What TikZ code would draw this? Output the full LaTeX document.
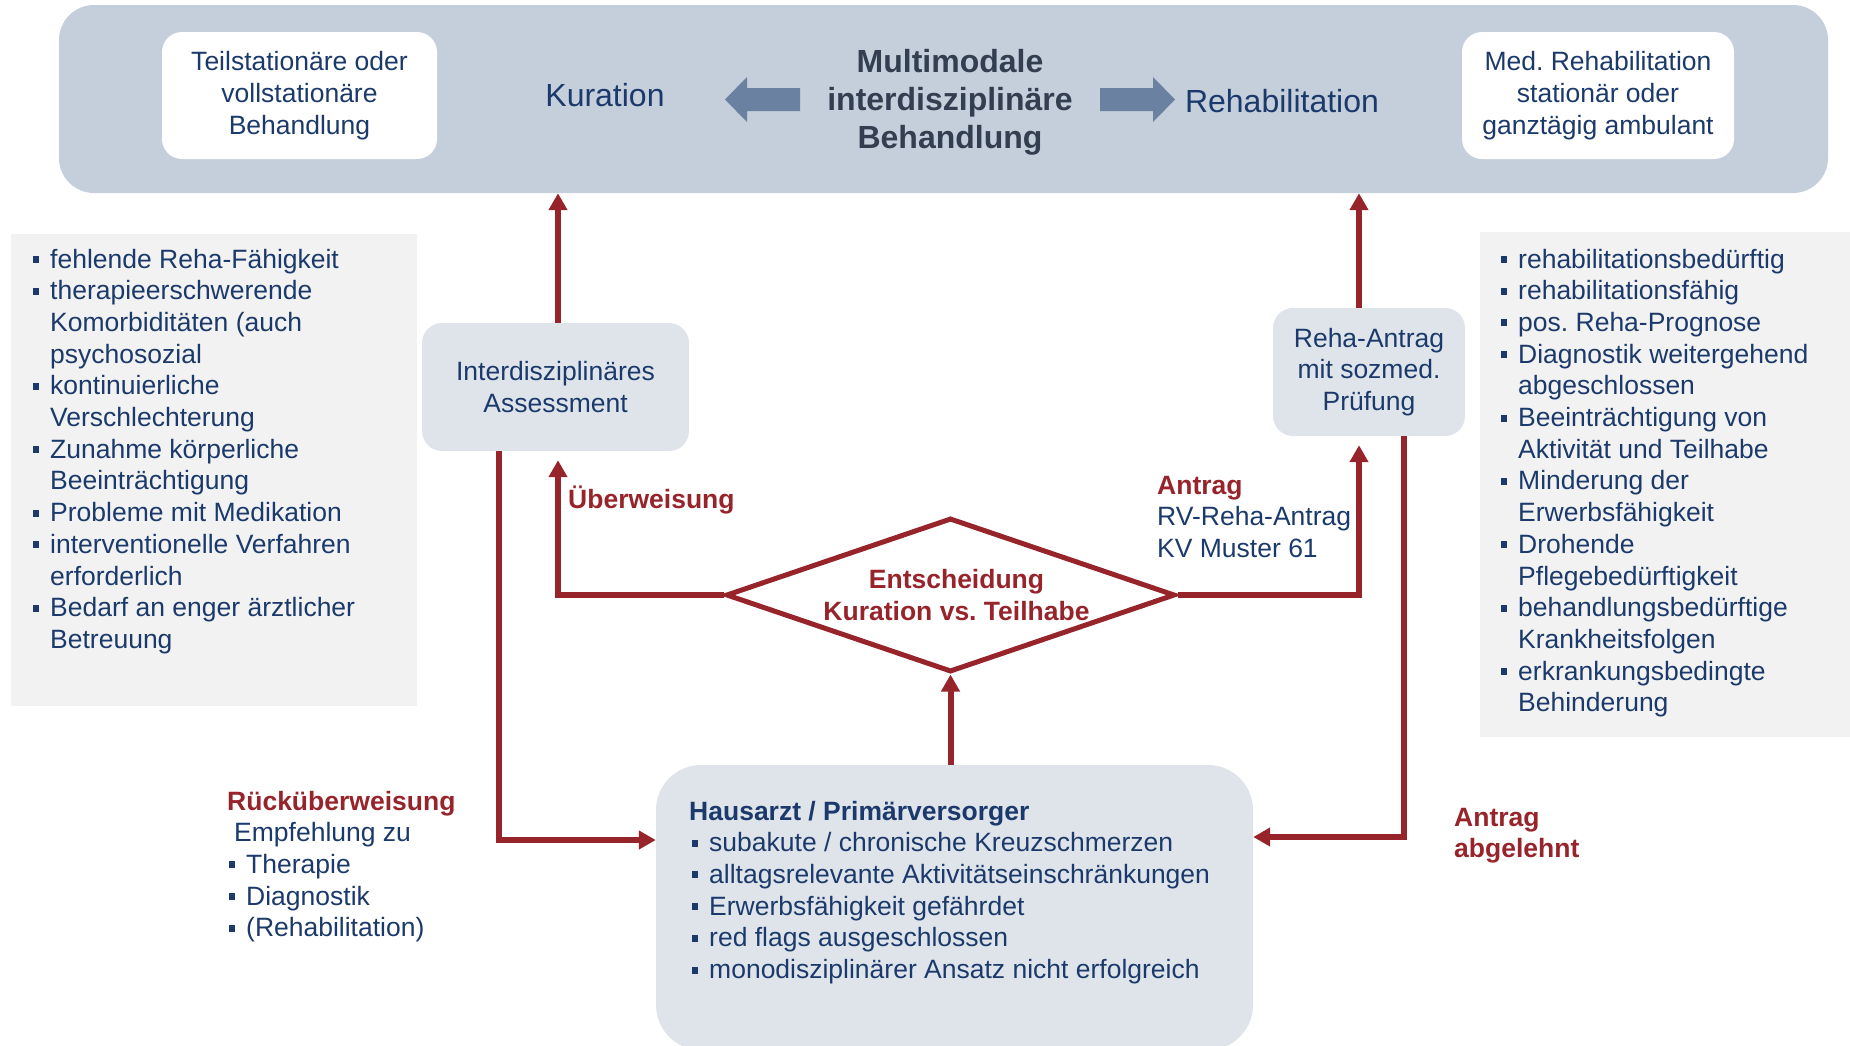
\documentclass[tikz,border=0pt]{standalone}
\usepackage{fontspec}
\setmainfont{Liberation Sans}
\usepackage{xcolor}
\usepackage{tikz}
\usetikzlibrary{shapes.geometric,arrows.meta,positioning,calc}

\definecolor{navy}{HTML}{1B3A6B}
\definecolor{dunkelrot}{HTML}{98242B}
\definecolor{titelgrau}{HTML}{333F50}
\definecolor{panelblau}{HTML}{C5CEDB}
\definecolor{boxgrau}{HTML}{DFE4EB}
\definecolor{listgrau}{HTML}{F2F2F2}
\definecolor{pfeilblau}{HTML}{6A81A1}

\newcommand{\bl}{\makebox[17pt][l]{\rule[5pt]{6pt}{7pt}}} % square bullet
\newcommand{\ein}{\hspace*{17pt}}                          % hanging indent
\frenchspacing

\begin{document}
\begin{tikzpicture}[
  x=1pt, y=-1pt,                     % pixel grid, y downwards
  every node/.style={inner sep=0pt, text=navy, font=\fontsize{26.5}{31.7}\selectfont},
  pfeil/.style={draw=dunkelrot, line width=6pt, -{Triangle[length=17pt,width=18pt]}},
  hellbox/.style={fill=boxgrau, rounded corners=20pt, align=center},
  weissbox/.style={fill=white, rounded corners=20pt, align=center},
  liste/.style={anchor=base west, align=left}, % anchored at the base of the LAST line
  rot/.style={text=dunkelrot, font=\fontsize{26.5}{31.7}\selectfont\bfseries},
  gross/.style={font=\fontsize{32}{38}\selectfont}
]
\useasboundingbox (0,0) rectangle (1850,1045);
\clip (0,0) rectangle (1850,1045);

% top bar
\node[fill=panelblau, rounded corners=35pt, minimum width=1769pt, minimum height=188pt] (panel) at (943.5,99) {};
\node[weissbox, minimum width=275pt, minimum height=127pt] (teilstat) at (299.5,95.5) {Teilstationäre oder\\vollstationäre\\Behandlung};
\node[weissbox, minimum width=272pt, minimum height=127pt] (medreha) at (1598,95.5) {Med. Rehabilitation\\stationär oder\\ganztägig ambulant};
\node[gross, anchor=base] (kuration) at (605,106) {Kuration};
\node[gross, anchor=base] (rehabil) at (1282,112) {Rehabilitation};
\node[anchor=base, align=center, text=titelgrau, font=\fontsize{32}{38}\selectfont\bfseries] (titel) at (950,148) {Multimodale\\interdisziplinäre\\Behandlung};
\fill[pfeilblau] (800,88) -- (747,88) -- (747,77) -- (725,99.5) -- (747,122) -- (747,111) -- (800,111) -- cycle;
\fill[pfeilblau] (1100,88) -- (1153,88) -- (1153,77) -- (1175,99.5) -- (1153,122) -- (1153,111) -- (1100,111) -- cycle;

% criteria lists
\fill[listgrau] (11,234) rectangle (417,706);
\fill[listgrau] (1480,232) rectangle (1850,737);
\node[liste] (kritlinks) at (33,648.4) {\bl fehlende Reha-Fähigkeit\\
  \bl therapieerschwerende\\ \ein Komorbiditäten (auch\\ \ein psychosozial\\
  \bl kontinuierliche\\ \ein Verschlechterung\\
  \bl Zunahme körperliche\\ \ein Beeinträchtigung\\
  \bl Probleme mit Medikation\\
  \bl interventionelle Verfahren\\ \ein erforderlich\\
  \bl Bedarf an enger ärztlicher\\ \ein Betreuung};
\node[liste] (kritrechts) at (1501,711.8) {\bl rehabilitationsbedürftig\\
  \bl rehabilitationsfähig\\
  \bl pos. Reha-Prognose\\
  \bl Diagnostik weitergehend\\ \ein abgeschlossen\\
  \bl Beeinträchtigung von\\ \ein Aktivität und Teilhabe\\
  \bl Minderung der\\ \ein Erwerbsfähigkeit\\
  \bl Drohende\\ \ein Pflegebedürftigkeit\\
  \bl behandlungsbedürftige\\ \ein Krankheitsfolgen\\
  \bl erkrankungsbedingte\\ \ein Behinderung};

% middle row
\node[hellbox, minimum width=267pt, minimum height=128pt] (assess) at (555.5,387) {Interdisziplinäres\\Assessment};
\node[hellbox, minimum width=192pt, minimum height=128pt] (rehaantrag) at (1369,372) {Reha-Antrag\\mit sozmed.\\Prüfung};
\node[draw=dunkelrot, line width=5pt, shape=diamond, aspect=2.9, minimum width=449pt, minimum height=154pt, align=center, rot] (entscheidung) at (950.5,595) {\hspace*{12pt}Entscheidung\\\hspace*{12pt}Kuration vs. Teilhabe};

% GP box
\node[fill=boxgrau, rounded corners=45pt, minimum width=597pt, minimum height=285pt] (hausarzt) at (954.5,907.5) {};
\node[liste] (hausarzttext) at (689,978.5) {\textbf{Hausarzt / Primärversorger}\\
  \hspace*{3pt}\bl subakute / chronische Kreuzschmerzen\\
  \hspace*{3pt}\bl alltagsrelevante Aktivitätseinschränkungen\\
  \hspace*{3pt}\bl Erwerbsfähigkeit gefährdet\\
  \hspace*{3pt}\bl red flags ausgeschlossen\\
  \hspace*{3pt}\bl monodisziplinärer Ansatz nicht erfolgreich};

% labels
\node[liste, rot] (ueberweisung) at (568,508) {Überweisung};
\node[liste] (antrag) at (1157,557.4) {\textcolor{dunkelrot}{\bfseries Antrag}\\RV-Reha-Antrag\\KV Muster 61};
\node[liste] (rueck) at (227,936.8) {\textcolor{dunkelrot}{\bfseries Rücküberweisung}\\
  \hspace*{7pt}Empfehlung zu\\
  \hspace*{2pt}\bl Therapie\\
  \hspace*{2pt}\bl Diagnostik\\
  \hspace*{2pt}\bl (Rehabilitation)};
\node[liste, rot] (abgelehnt) at (1454,857.7) {Antrag\\abgelehnt};

% connectors
\coordinate (rueckecke) at (499,840);
\coordinate (ablehnecke) at (1404,837);
\draw[pfeil] ([xshift=2.5pt]assess.north) -- ([xshift=2.5pt]assess.north |- panel.south);
\draw[pfeil] ([xshift=-10pt]rehaantrag.north) -- ([xshift=-10pt]rehaantrag.north |- panel.south);
\draw[pfeil, shorten >=9pt] (entscheidung.west) -| ([xshift=2.5pt]assess.south);
\draw[pfeil, shorten >=9pt] (entscheidung.east) -| ([xshift=-10pt]rehaantrag.south);
\draw[pfeil] (hausarzt.north -| entscheidung.south) -- (entscheidung.south);
\draw[pfeil] (assess.south -| rueckecke) -- (rueckecke) -- (rueckecke -| hausarzt.west);
\draw[pfeil] (rehaantrag.south -| ablehnecke) -- (ablehnecke) -- (ablehnecke -| hausarzt.east);
\end{tikzpicture}
\end{document}
